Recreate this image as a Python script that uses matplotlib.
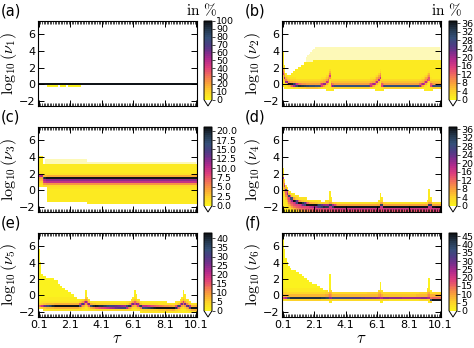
import numpy as np
import matplotlib
matplotlib.use('Agg')
import matplotlib.pyplot as plt
from matplotlib.colors import LinearSegmentedColormap, Normalize
from matplotlib.ticker import MultipleLocator, FormatStrFormatter

plt.rcParams['mathtext.fontset'] = 'cm'
plt.rcParams['font.family'] = ['DejaVu Sans']

# ---------------- grid (bin centres) ----------------
tau_centers = np.round(np.arange(0.1, 10.101, 0.1), 2)
y_centers = np.arange(-2.5, 7.501, 0.25)
tau_edges = np.append(tau_centers - 0.05, tau_centers[-1] + 0.05)
y_edges = np.append(y_centers - 0.125, y_centers[-1] + 0.125)

# ---------------- panel (a) : nu_1 ----------------
tau_a = [0.1, 10.1]
ridge_a = [0.0, 0.0]
peak_a = [99.0, 99.0]
lo_a = [0.0, 0.0]
hi_a = [0.0, 0.0]
glow_a = [0.0, 0.0]
spill_spans_a = [(0.7, 1.3), (1.5, 1.8), (2.0, 2.7)]
spill_y_a = -0.25
spill_val_a = 1.0
ticks_a = list(range(0, 101, 10))
vmax_a = 100

# ---------------- panel (b) : nu_2 ----------------
tau_b = [0.1, 0.2, 0.3, 0.5, 0.8, 1.1, 1.6, 2.4, 2.8, 3.0, 3.1, 3.2, 3.4,
         5.5, 5.9, 6.1, 6.3, 6.4, 6.6, 8.7, 9.0, 9.2, 9.4, 9.5, 9.7, 10.1]
ridge_b = [1.3, 0.7, 0.3, 0.0, -0.1, -0.2, -0.25, -0.25, 0.0, 0.35, 0.9, -0.15, -0.25,
           -0.25, -0.05, 0.2, 0.75, -0.15, -0.25, -0.25, -0.05, 0.2, 0.6, -0.15, -0.25, -0.25]
peak_b = [9, 12, 16, 32, 38, 32, 26, 24, 15, 11, 9, 16, 24,
          24, 15, 11, 9, 16, 24, 24, 15, 11, 9, 16, 24, 24]
hi_b = [3.8, 2.2, 1.2, 0.9, 1.5, 2.0, 2.5] + [2.7] * 19
lo_b = [-0.3, -0.4, -0.5, -0.6, -0.6, -0.6, -0.6, -0.6, -0.6, -0.7, -0.8, -0.8, -0.6,
        -0.6, -0.6, -0.7, -0.8, -0.8, -0.6, -0.6, -0.6, -0.7, -0.8, -0.8, -0.6, -0.6]
glow_b = [8, 8, 6, 5, 5, 5, 5, 5, 6, 8, 9, 5, 5,
          5, 6, 8, 9, 5, 5, 5, 6, 8, 9, 5, 5, 5]
sparse_tau_b = [0.1, 1.3, 1.6, 2.2, 10.1]
sparse_top_b = [0.0, 0.0, 3.3, 4.5, 4.5]
ticks_b = list(range(0, 37, 4))
vmax_b = 37

# ---------------- panel (c) : nu_3 ----------------
tau_c = [0.1, 0.3, 0.4, 0.6, 0.7, 1.0, 3.1, 3.2, 10.1]
ridge_c = [1.75, 1.75, 1.5, 1.5, 1.5, 1.5, 1.5, 1.5, 1.5]
peak_c = [7, 8, 12, 16, 20, 21, 21, 20, 21]
hi_c = [4.0, 4.0, 3.0, 3.0, 3.0, 3.0, 3.0, 3.0, 3.0]
lo_c = [0.5, 0.5, 0.5, 0.5, -1.25, -1.25, -1.25, -1.5, -1.5]
glow_c = [3, 3, 8, 10, 10, 10, 10, 10, 10]
sparse_tau_c = [0.1, 0.4, 0.5, 3.1, 3.2, 10.1]
sparse_top_c = [0.0, 0.0, 3.8, 3.8, 3.4, 3.4]
ticks_c = [0.0, 2.5, 5.0, 7.5, 10.0, 12.5, 15.0, 17.5, 20.0]
vmax_c = 21

# ---------------- panel (d) : nu_4 ----------------
tau_d = [0.1, 0.2, 0.3, 0.5, 0.8, 1.2, 1.8, 2.7, 3.0, 3.1, 3.2, 3.3, 3.6,
         6.0, 6.2, 6.3, 6.4, 6.5, 6.8, 9.1, 9.3, 9.4, 9.5, 9.6, 10.1]
ridge_d = [1.5, 0.6, 0.0, -0.75, -1.25, -1.5, -1.75, -1.9, -1.9, -1.75, -1.75, -1.9, -2.0,
           -2.0, -2.0, -1.75, -1.75, -2.0, -2.0, -2.0, -2.0, -1.75, -1.75, -2.0, -2.0]
peak_d = [14, 16, 18, 22, 28, 32, 34, 34, 30, 20, 20, 28, 34,
          34, 30, 20, 20, 28, 34, 34, 30, 20, 20, 30, 36]
hi_d = [2.6, 1.3, 0.5, -0.2, -0.6, -0.9, -1.2, -1.4, -1.25, -0.25, -0.9, -1.4, -1.5,
        -1.5, -1.25, -0.4, -1.0, -1.4, -1.5, -1.5, -1.25, 0.0, -0.9, -1.4, -1.5]
lo_d = [-2.625] * 25
glow_d = [7, 8, 10, 12, 13, 13, 13, 13, 14, 15, 15, 14, 13,
          13, 14, 15, 15, 14, 13, 13, 14, 15, 15, 14, 13]
ticks_d = list(range(0, 37, 4))
vmax_d = 37

# ---------------- panel (e) : nu_5 ----------------
tau_e = [0.1, 0.2, 0.3, 0.6, 1.0, 1.3, 1.5, 1.9, 2.3, 2.6, 2.8, 3.0, 3.1, 3.2, 3.4,
         3.7, 5.6, 5.9, 6.1, 6.2, 6.4, 6.7, 8.7, 9.0, 9.2, 9.3, 9.5, 9.8, 10.1]
ridge_e = [-1.25, -1.25, -1.25, -1.25, -1.25, -1.25, -1.25, -1.25, -1.25, -1.25, -1.1, -0.9,
           -0.75, -0.9, -1.25, -1.3, -1.4, -1.25, -1.0, -0.9, -1.1, -1.4, -1.5, -1.3, -1.0,
           -0.85, -1.2, -1.5, -1.5]
peak_e = [8, 10, 14, 26, 34, 38, 40, 40, 40, 38, 25, 16, 12, 16, 28,
          40, 42, 30, 16, 12, 18, 40, 42, 30, 16, 12, 20, 40, 42]
hi_e = [5.6, 4.0, 2.5, 2.0, 1.9, 1.7, 0.9, 0.4, -0.1, -0.4, -0.6, -0.4, 0.6, -0.2, -0.7,
        -0.8, -0.8, -0.7, -0.3, 0.5, -0.4, -0.8, -0.9, -0.8, -0.3, 0.5, -0.4, -1.0, -1.0]
lo_e = [-1.5, -1.5, -1.6, -1.75, -1.75, -1.75, -1.75, -1.75, -1.75, -1.75, -1.75, -1.75,
        -1.75, -1.75, -1.75, -1.75, -1.75, -1.75, -1.75, -1.75, -1.75, -2.0, -2.0, -2.0,
        -2.0, -2.0, -2.0, -2.0, -2.0]
glow_e = [3, 3, 4, 5, 5, 5, 5, 5, 5, 6, 8, 10, 10, 9, 6,
          5, 5, 7, 9, 10, 9, 5, 5, 7, 9, 10, 9, 5, 5]
ticks_e = list(range(0, 41, 5))
vmax_e = 43

# ---------------- panel (f) : nu_6 ----------------
tau_f = [0.1, 0.2, 0.3, 0.4, 0.6, 1.0, 1.4, 1.7, 2.0, 2.4, 2.7, 3.0, 3.1, 3.2,
         3.3, 4.5, 6.1, 6.2, 6.3, 6.4, 6.5, 8.0, 9.2, 9.3, 9.4, 9.5, 9.6, 10.1]
ridge_f = [-0.25] * 25 + [-0.5, -0.5, -0.5]
peak_f = [14, 16, 20, 30, 40, 40, 40, 40, 40, 40, 38, 34, 20, 22,
          32, 30, 24, 20, 16, 20, 24, 22, 22, 18, 16, 30, 46, 47]
hi_f = [7.3, 5.6, 4.6, 4.0, 3.2, 2.8, 2.3, 1.75, 1.35, 0.95, 0.55, 0.35, 2.5, 0.6,
        0.3, 0.3, 0.3, 0.6, 1.5, 0.4, 0.3, 0.3, 0.3, 0.8, 2.0, 0.5, 0.3, 0.25]
lo_f = [-0.5, -0.5, -0.5, -0.5, -0.5, -0.5, -0.5, -0.5, -0.5, -0.5, -0.5, -0.5, -0.75, -0.75,
        -0.5, -0.5, -0.5, -0.5, -0.75, -0.75, -0.5, -0.5, -0.5, -0.5, -0.75, -0.75, -0.5, -0.5]
glow_f = [6, 6, 5, 4, 4, 4, 4, 4, 4, 4, 4, 6, 10, 8,
          4, 4, 5, 8, 10, 6, 4, 4, 5, 8, 10, 10, 10, 10]
ticks_f = list(range(0, 46, 5))
vmax_f = 47

# ---------------- helpers ----------------
W, H = 474, 348
fig = plt.figure(figsize=(W / 100, H / 100), dpi=100)

cmap = LinearSegmentedColormap.from_list(
    'hist', ['#fbf21e', '#fdd22a', '#f9a23a', '#f2705a', '#de3e7c', '#b52a8c',
             '#7a2d8c', '#4b3c84', '#345078', '#25384e', '#101418'], N=40)
cmap.set_under('white')
cmap.set_bad((1, 1, 1, 0))
pale = '#fdf9b8'


def rect(x0, y0, x1, y1):
    return [x0 / W, 1 - y1 / H, (x1 - x0) / W, (y1 - y0) / H]


def make_grid(tk, rk, pk, lk, hk, gk, goff, gw, band=1.0, w=0.11):
    T = tau_centers
    r = np.interp(T, tk, rk)
    p = np.interp(T, tk, pk)
    lo = np.interp(T, tk, lk)
    hi = np.interp(T, tk, hk)
    g = np.interp(T, tk, gk)
    Y = y_centers[:, None]
    Z = band + p * np.exp(-0.5 * ((Y - r) / w) ** 2) \
        + g * np.exp(-0.5 * ((Y - r - goff) / gw) ** 2)
    inside = (Y >= lo - 0.125) & (Y <= hi + 0.125)
    Z = np.where(inside, Z, 0.0)
    return Z, hi


panels = [
    dict(lab='(a)', nu='1', col=0, row=0, tk=tau_a, rk=ridge_a, pk=peak_a, lk=lo_a, hk=hi_a,
         gk=glow_a, goff=0.0, gw=0.3, band=0.0, vmax=vmax_a, ticks=ticks_a, fmt='%d'),
    dict(lab='(b)', nu='2', col=1, row=0, tk=tau_b, rk=ridge_b, pk=peak_b, lk=lo_b, hk=hi_b,
         gk=glow_b, goff=0.25, gw=0.35, band=1.0, vmax=vmax_b, ticks=ticks_b, fmt='%d',
         sp=(sparse_tau_b, sparse_top_b)),
    dict(lab='(c)', nu='3', col=0, row=1, tk=tau_c, rk=ridge_c, pk=peak_c, lk=lo_c, hk=hi_c,
         gk=glow_c, goff=-0.35, gw=0.3, band=1.0, vmax=vmax_c, ticks=ticks_c, fmt='%.1f',
         sp=(sparse_tau_c, sparse_top_c)),
    dict(lab='(d)', nu='4', col=1, row=1, tk=tau_d, rk=ridge_d, pk=peak_d, lk=lo_d, hk=hi_d,
         gk=glow_d, goff=-0.4, gw=0.45, band=1.0, vmax=vmax_d, ticks=ticks_d, fmt='%d'),
    dict(lab='(e)', nu='5', col=0, row=2, tk=tau_e, rk=ridge_e, pk=peak_e, lk=lo_e, hk=hi_e,
         gk=glow_e, goff=0.0, gw=0.35, band=1.0, vmax=vmax_e, ticks=ticks_e, fmt='%d'),
    dict(lab='(f)', nu='6', col=1, row=2, tk=tau_f, rk=ridge_f, pk=peak_f, lk=lo_f, hk=hi_f,
         gk=glow_f, goff=0.3, gw=0.3, band=1.0, vmax=vmax_f, ticks=ticks_f, fmt='%d'),
]

col_x = [(38, 197, 204, 212), (282, 441, 449, 457)]
row_y = [(21, 106), (127, 212), (233, 317)]
lab_x = [1, 245]

for P in panels:
    x0, x1, cx0, cx1 = col_x[P['col']]
    y0, y1 = row_y[P['row']]
    ax = fig.add_axes(rect(x0, y0, x1, y1))
    cax = fig.add_axes(rect(cx0, y0, cx1, y1))

    Z, hi = make_grid(P['tk'], P['rk'], P['pk'], P['lk'], P['hk'], P['gk'],
                      P['goff'], P['gw'], band=P['band'])
    if P['lab'] == '(a)':
        j = int(np.argmin(np.abs(y_centers - spill_y_a)))
        for s0, s1 in spill_spans_a:
            m = (tau_centers >= s0 - 1e-6) & (tau_centers <= s1 + 1e-6)
            Z[j, m] = spill_val_a
    Zm = np.ma.masked_less_equal(Z, 0.01)

    if 'sp' in P:
        st = np.interp(tau_centers, P['sp'][0], P['sp'][1])
        top = np.maximum(st, hi)
        ax.fill_between(tau_centers, hi, top, where=top > hi + 0.05, step='mid',
                        color=pale, linewidth=0, zorder=0)

    norm = Normalize(vmin=0, vmax=P['vmax'])
    mesh = ax.pcolormesh(tau_edges, y_edges, Zm, cmap=cmap, norm=norm,
                         shading='flat', zorder=1, antialiased=False)

    ax.set_xlim(tau_edges[0], tau_edges[-1])
    ax.set_ylim(y_edges[0], y_edges[-1])
    ax.set_xticks(np.round(np.arange(0.1, 10.11, 2.0), 1))
    ax.xaxis.set_major_formatter(FormatStrFormatter('%.1f'))
    ax.xaxis.set_minor_locator(MultipleLocator(0.1))
    ax.set_yticks([-2, 0, 2, 4, 6])
    ax.tick_params(which='both', direction='in', top=True, right=True, labelsize=8, pad=2)
    ax.tick_params(which='major', length=4, width=0.7)
    ax.tick_params(which='minor', length=2, width=0.5)
    if P['row'] < 2:
        ax.tick_params(labelbottom=False)
    for s in ax.spines.values():
        s.set_linewidth(0.8)
    ax.set_ylabel(r'$\log_{10}(\nu_%s)$' % P['nu'], fontsize=11.5, labelpad=0)

    cb = fig.colorbar(mesh, cax=cax, extend='min', extendfrac=0.08, ticks=P['ticks'])
    cb.ax.yaxis.set_major_formatter(FormatStrFormatter(P['fmt']))
    cb.ax.tick_params(labelsize=6.8, length=2, width=0.5, pad=1)
    cb.outline.set_linewidth(0.7)

    fig.text(lab_x[P['col']] / W, 1 - (y0 - 10) / H, P['lab'], ha='left', va='center',
             fontsize=10.5)
    if P['row'] == 0:
        fig.text((cx1 + 5) / W, 1 - 10 / H, r'$\mathrm{in}\ \%$', ha='right',
                 va='center', fontsize=11)
    if P['row'] == 2:
        fig.text((x0 + x1) / 2 / W, 1 - 338 / H, r'$\tau$', ha='center', va='center',
                 fontsize=12)

fig.savefig('out.png', dpi=100)
